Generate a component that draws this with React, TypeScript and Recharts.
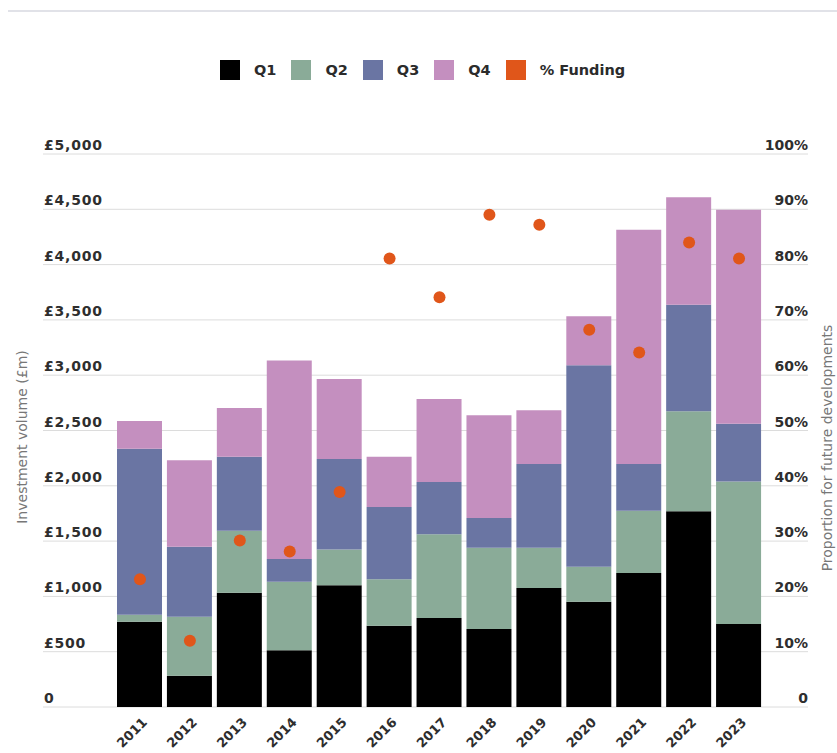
import {
  Bar,
  CartesianGrid,
  ComposedChart,
  Legend,
  Scatter,
  XAxis,
  YAxis,
} from 'recharts';

const years = ['2011', '2012', '2013', '2014', '2015', '2016', '2017', '2018', '2019', '2020', '2021', '2022', '2023'];
const q1 = [770, 283, 1033, 512, 1100, 735, 805, 705, 1076, 952, 1212, 1769, 750];
const q2 = [65, 533, 561, 621, 325, 419, 756, 735, 364, 316, 563, 904, 1290];
const q3 = [1500, 633, 669, 205, 817, 654, 473, 269, 757, 1821, 422, 964, 522];
const q4 = [250, 781, 440, 1796, 724, 455, 751, 928, 485, 443, 2119, 971, 1934];
const funding = [23.1, 12.0, 30.1, 28.1, 38.9, 81.1, 74.1, 89.0, 87.2, 68.2, 64.1, 84.0, 81.1];

const leftTicks = [0, 500, 1000, 1500, 2000, 2500, 3000, 3500, 4000, 4500, 5000];
const rightTicks = [0, 10, 20, 30, 40, 50, 60, 70, 80, 90, 100];

const COLORS = {
  q1: '#000000',
  q2: '#8aab98',
  q3: '#6a75a3',
  q4: '#c48fbf',
  funding: '#e0561a',
};

const FONT = '"DejaVu Sans", Arial, sans-serif';

const data = years.map((year, i) => ({
  year,
  q1: q1[i],
  q2: q2[i],
  q3: q3[i],
  q4: q4[i],
  funding: funding[i],
}));

const legendItems = [
  { label: 'Q1', color: COLORS.q1 },
  { label: 'Q2', color: COLORS.q2 },
  { label: 'Q3', color: COLORS.q3 },
  { label: 'Q4', color: COLORS.q4 },
  { label: '% Funding', color: COLORS.funding },
];

function LegendContent() {
  return (
    <div style={{ display: 'flex', alignItems: 'center', paddingLeft: 220, fontFamily: FONT }}>
      {legendItems.map((item) => (
        <div key={item.label} style={{ display: 'flex', alignItems: 'center', marginRight: 15 }}>
          <span style={{ width: 20, height: 20, background: item.color, display: 'inline-block', marginRight: 14 }} />
          <span style={{ fontSize: 14.5, fontWeight: 700, color: '#2b2b2b' }}>{item.label}</span>
        </div>
      ))}
    </div>
  );
}

function LeftTick({ y, payload }: any) {
  const v = payload.value;
  const text = v === 0 ? '0' : '£' + v.toLocaleString('en-GB');
  return (
    <text
      x={44}
      y={y - 4}
      textAnchor="start"
      fontFamily={FONT}
      fontSize={14}
      fontWeight={700}
      letterSpacing={0.8}
      fill="#2e2e2e"
    >
      {text}
    </text>
  );
}

function RightTick({ y, payload }: any) {
  const v = payload.value;
  const text = v === 0 ? '0' : v + '%';
  return (
    <text x={808} y={y - 4} textAnchor="end" fontFamily={FONT} fontSize={14} fontWeight={700} fill="#2e2e2e">
      {text}
    </text>
  );
}

function YearTick({ x, y, payload }: any) {
  const ax = x + 8;
  const ay = y + 8;
  return (
    <text
      x={ax}
      y={ay}
      textAnchor="end"
      transform={`rotate(-45, ${ax}, ${ay})`}
      fontFamily={FONT}
      fontSize={13}
      fontWeight={700}
      fill="#2e2e2e"
    >
      {payload.value}
    </text>
  );
}

function Dot(props: any) {
  return <circle cx={props.cx} cy={props.cy} r={6} fill={COLORS.funding} />;
}

export default function App() {
  return (
    <div style={{ position: 'absolute', left: 0, top: 0, width: 837, height: 753, background: '#fff' }}>
      <div style={{ position: 'absolute', left: 8, top: 10, width: 829, height: 2, background: '#e1e2e8' }} />
      <ComposedChart
        width={837}
        height={753}
        data={data}
        margin={{ top: 134, right: 28, bottom: 6, left: 42 }}
      >
        <CartesianGrid yAxisId="left" vertical={false} stroke="#dcdcdc" />
        <XAxis
          dataKey="year"
          interval={0}
          axisLine={false}
          tickLine={false}
          height={40}
          padding={{ left: 72, right: 44 }}
          tick={<YearTick />}
        />
        <YAxis
          yAxisId="left"
          width={1}
          domain={[0, 5000]}
          ticks={leftTicks}
          axisLine={false}
          tickLine={false}
          tick={<LeftTick />}
          label={{
            content: () => (
              <text
                x={27}
                y={437}
                transform="rotate(-90, 27, 437)"
                textAnchor="middle"
                fontFamily={FONT}
                fontSize={14}
                fill="#777"
              >
                Investment volume (£m)
              </text>
            ),
          }}
        />
        <YAxis
          yAxisId="right"
          orientation="right"
          width={1}
          domain={[0, 100]}
          ticks={rightTicks}
          axisLine={false}
          tickLine={false}
          tick={<RightTick />}
          label={{
            content: () => (
              <text
                x={832}
                y={448}
                transform="rotate(-90, 832, 448)"
                textAnchor="middle"
                fontFamily={FONT}
                fontSize={14}
                fill="#777"
              >
                Proportion for future developments
              </text>
            ),
          }}
        />
        <Legend verticalAlign="top" wrapperStyle={{ top: 60, left: 0, width: 837 }} content={<LegendContent />} />
        <Bar yAxisId="left" dataKey="q1" stackId="a" fill={COLORS.q1} barSize={45} isAnimationActive={false} />
        <Bar yAxisId="left" dataKey="q2" stackId="a" fill={COLORS.q2} barSize={45} isAnimationActive={false} />
        <Bar yAxisId="left" dataKey="q3" stackId="a" fill={COLORS.q3} barSize={45} isAnimationActive={false} />
        <Bar yAxisId="left" dataKey="q4" stackId="a" fill={COLORS.q4} barSize={45} isAnimationActive={false} />
        <Scatter yAxisId="right" dataKey="funding" fill={COLORS.funding} shape={<Dot />} isAnimationActive={false} />
      </ComposedChart>
    </div>
  );
}
